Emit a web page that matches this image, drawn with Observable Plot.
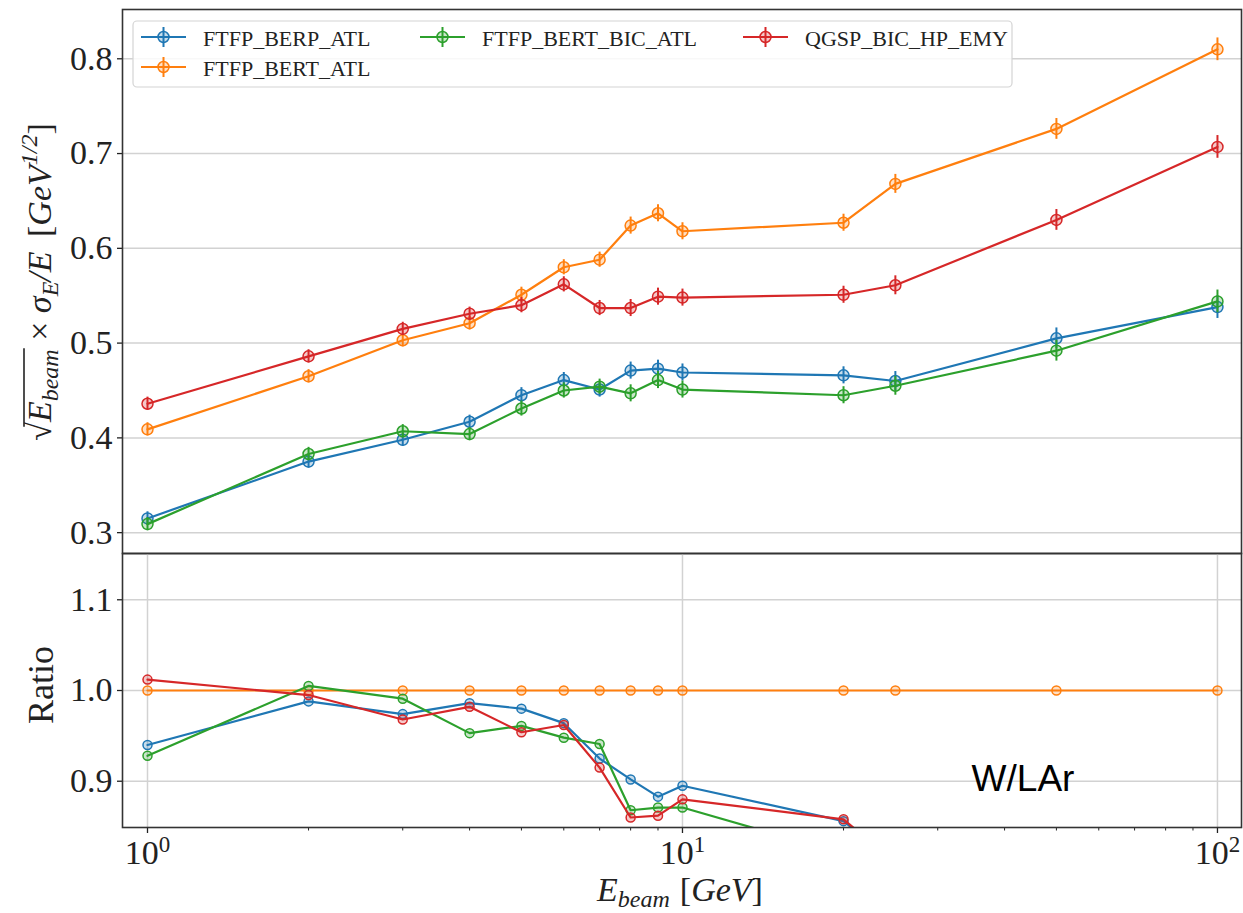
<!DOCTYPE html>
<html><head><meta charset="utf-8">
<script src="https://cdn.jsdelivr.net/npm/d3@7"></script>
<script src="https://cdn.jsdelivr.net/npm/@observablehq/plot@0.6"></script>
<style>
body{margin:0;background:#fff;}
#chart{position:relative;width:1243px;height:913px;overflow:hidden;}
#chart svg{display:block;overflow:visible;}
</style></head><body><div id="chart"></div>
<script>
// ---------- data ----------
const energies = [1, 2, 3, 4, 5, 6, 7, 8, 9, 10, 20, 25, 50, 100];
const seriesNames = ["FTFP_BERP_ATL", "FTFP_BERT_ATL", "FTFP_BERT_BIC_ATL", "QGSP_BIC_HP_EMY"];
const colors = ["#1f77b4", "#ff7f0e", "#2ca02c", "#d62728"];

// sqrt(E_beam) x sigma_E/E  [GeV^1/2]
const resBerpAtl    = [0.315, 0.375, 0.398, 0.417, 0.445, 0.461, 0.451, 0.471, 0.473, 0.469, 0.466, 0.460, 0.505, 0.538];
const resBertAtl    = [0.409, 0.465, 0.503, 0.521, 0.551, 0.580, 0.588, 0.624, 0.637, 0.618, 0.627, 0.668, 0.726, 0.810];
const resBertBicAtl = [0.309, 0.383, 0.407, 0.404, 0.431, 0.450, 0.454, 0.447, 0.461, 0.451, 0.445, 0.455, 0.492, 0.544];
const resQgspBicHp  = [0.436, 0.486, 0.515, 0.531, 0.540, 0.562, 0.537, 0.537, 0.549, 0.548, 0.551, 0.561, 0.630, 0.707];
const resErrors     = [0.007, 0.007, 0.007, 0.007, 0.008, 0.008, 0.008, 0.009, 0.009, 0.009, 0.009, 0.010, 0.011, 0.012];

// ratio panel (points below 0.85 fall outside the frame)
const ratioBerpAtl    = [0.940, 0.988, 0.974, 0.986, 0.980, 0.964, 0.925, 0.902, 0.883, 0.895, 0.856, 0.810];
const ratioBertAtl    = [1.000, 1.000, 1.000, 1.000, 1.000, 1.000, 1.000, 1.000, 1.000, 1.000, 1.000, 1.000, 1.000, 1.000];
const ratioBertBicAtl = [0.928, 1.005, 0.991, 0.953, 0.961, 0.948, 0.941, 0.868, 0.871, 0.871, 0.820];
const ratioQgspBicHp  = [1.012, 0.995, 0.968, 0.982, 0.954, 0.962, 0.915, 0.860, 0.862, 0.880, 0.858, 0.810];

const yTicksTop = [0.3, 0.4, 0.5, 0.6, 0.7, 0.8];
const yTicksRatio = [0.9, 1.0, 1.1];
const xTicksMajor = [1, 10, 100];
const xTicksMinor = [2, 3, 4, 5, 6, 7, 8, 9, 20, 30, 40, 50, 60, 70, 80, 90];
const annotation = [{text: "W/LAr", E: 43.3, ratio: 0.902}];

// ---------- tables ----------
const resSeries = [resBerpAtl, resBertAtl, resBertBicAtl, resQgspBicHp];
const ratioSeries = [ratioBerpAtl, ratioBertAtl, ratioBertBicAtl, ratioQgspBicHp];
const topData = [], ratioData = [];
seriesNames.forEach((name, i) => {
  resSeries[i].forEach((v, j) => topData.push({series: name, idx: i, E: energies[j], v, err: resErrors[j]}));
  ratioSeries[i].forEach((v, j) => ratioData.push({series: name, idx: i, E: energies[j], v}));
});

const xDomain = [0.898, 110.9];
const SERIF = "'Liberation Serif', 'DejaVu Serif', serif";
const gridStyle = {stroke: "#d2d2d2", strokeOpacity: 1, strokeWidth: 1.5};

function seriesMarks(data, withErr, r) {
  return seriesNames.flatMap((name, i) => {
    const d = data.filter(p => p.idx === i);
    const m = [Plot.line(d, {x: "E", y: "v", stroke: colors[i], strokeWidth: 2.2, clip: true})];
    if (withErr) m.push(Plot.ruleX(d, {x: "E", y1: p => p.v - p.err, y2: p => p.v + p.err, stroke: colors[i], strokeWidth: 2}));
    m.push(Plot.dot(d, {x: "E", y: "v", r, stroke: colors[i], fill: colors[i], fillOpacity: 0.25, strokeWidth: 1.5, clip: true}));
    return m;
  });
}

// ---------- top panel ----------
const topPlot = Plot.plot({
  width: 1243, height: 553,
  marginLeft: 122, marginRight: 2, marginTop: 9, marginBottom: 0,
  style: {fontFamily: SERIF, background: "transparent", overflow: "visible", color: "#222"},
  x: {type: "log", domain: xDomain, axis: null},
  y: {domain: [0.278, 0.852]},
  marks: [
    Plot.gridY(yTicksTop, gridStyle),
    Plot.axisY(yTicksTop, {tickSize: 5, tickPadding: 5, fontSize: 34, strokeWidth: 1.3, tickFormat: d => d.toFixed(1), label: null}),
    ...seriesMarks(topData, true, 5.5),
    Plot.frame({stroke: "#333", strokeWidth: 1.6})
  ]
});

// ---------- ratio panel ----------
const botPlot = Plot.plot({
  width: 1243, height: 360,
  marginLeft: 122, marginRight: 2, marginTop: 0, marginBottom: 86,
  style: {fontFamily: SERIF, background: "transparent", overflow: "visible", color: "#222"},
  x: {type: "log", domain: xDomain},
  y: {domain: [0.849, 1.151]},
  marks: [
    Plot.gridY(yTicksRatio, gridStyle),
    Plot.gridX(xTicksMajor, gridStyle),
    Plot.axisY(yTicksRatio, {tickSize: 5, tickPadding: 5, fontSize: 34, strokeWidth: 1.3, tickFormat: d => d.toFixed(1), label: null}),
    Plot.axisX(xTicksMinor, {tickSize: 3.5, strokeWidth: 1, tickFormat: () => "", label: null}),
    Plot.axisX(xTicksMajor, {tickSize: 6, tickPadding: 6, fontSize: 34, strokeWidth: 1.3, tickFormat: d => String(Math.round(Math.log10(d))), label: null}),
    ...seriesMarks(ratioData, false, 4.5),
    Plot.text(annotation, {x: "E", y: "ratio", text: "text", fontSize: 37, fontFamily: "'Liberation Sans', Arial, sans-serif", fill: "#000"}),
    Plot.frame({stroke: "#333", strokeWidth: 1.6})
  ]
});

const chart = document.getElementById("chart");
chart.appendChild(topPlot);
chart.appendChild(botPlot);

// ---------- x tick labels as powers of ten ----------
d3.select(botPlot).selectAll('g[aria-label="x-axis tick label"] text').each(function() {
  const exp = this.textContent.trim();
  if (!exp) return;
  const sel = d3.select(this);
  sel.text("10");
  sel.append("tspan").attr("dy", "-0.5em").attr("font-size", 23).text(exp);
});

// ---------- legend ----------
const svgTop = d3.select(topPlot);
const lg = svgTop.append("g").attr("text-anchor", "start");
lg.append("rect").attr("x", 133).attr("y", 21).attr("width", 879).attr("height", 66).attr("rx", 4)
  .attr("fill", "#fff").attr("fill-opacity", 0.85).attr("stroke", "#d4d4d4").attr("stroke-width", 1.2);
const legendPos = [[141, 37], [141, 67], [420, 37], [743, 37]];
seriesNames.forEach((name, i) => {
  const [x, y] = legendPos[i];
  lg.append("line").attr("x1", x).attr("x2", x + 45).attr("y1", y).attr("y2", y).attr("stroke", colors[i]).attr("stroke-width", 2.2);
  lg.append("line").attr("x1", x + 22.5).attr("x2", x + 22.5).attr("y1", y - 10).attr("y2", y + 10).attr("stroke", colors[i]).attr("stroke-width", 2);
  lg.append("circle").attr("cx", x + 22.5).attr("cy", y).attr("r", 5.5).attr("stroke", colors[i]).attr("stroke-width", 1.5)
    .attr("fill", colors[i]).attr("fill-opacity", 0.25);
  lg.append("text").attr("x", x + 62).attr("y", y + 8.5).attr("text-anchor", "start").attr("font-size", 22)
    .attr("font-family", SERIF).attr("fill", "#222").text(name);
});

// ---------- y label (top) ----------
const gl = svgTop.append("g").attr("transform", "translate(51,282) rotate(-90)");
const t = gl.append("text").attr("text-anchor", "middle").attr("font-size", 34).attr("fill", "#222").attr("font-family", SERIF);
t.append("tspan").text("√");
t.append("tspan").attr("font-style", "italic").text("E");
t.append("tspan").attr("font-style", "italic").attr("font-size", 24).attr("dy", 7).text("beam");
t.append("tspan").attr("dy", -7).text(" × ");
t.append("tspan").attr("font-style", "italic").text("σ");
t.append("tspan").attr("font-style", "italic").attr("font-size", 24).attr("dy", 7).text("E");
t.append("tspan").attr("font-style", "italic").attr("dy", -7).text("/E");
t.append("tspan").attr("dx", 6).text(" [");
t.append("tspan").attr("font-style", "italic").text("GeV");
t.append("tspan").attr("font-style", "italic").attr("font-size", 24).attr("dy", -14).text("1/2");
t.append("tspan").attr("dy", 14).text("]");
try {
  const node = t.node();
  const x1 = node.getStartPositionOfChar(0).x + 14;
  const x2 = node.getEndPositionOfChar(5).x + 1;
  gl.append("line").attr("x1", x1).attr("x2", x2).attr("y1", -27).attr("y2", -27).attr("stroke", "#222").attr("stroke-width", 1.6);
} catch (e) {}

// ---------- y label (ratio) and x label ----------
const svgBot = d3.select(botPlot);
svgBot.append("text").attr("transform", "translate(53,132) rotate(-90)").attr("text-anchor", "middle")
  .attr("font-size", 36).attr("fill", "#222").attr("font-family", SERIF).text("Ratio");
const xl = svgBot.append("text").attr("x", 680).attr("y", 348).attr("text-anchor", "middle")
  .attr("font-size", 34).attr("fill", "#222").attr("font-family", SERIF);
xl.append("tspan").attr("font-style", "italic").text("E");
xl.append("tspan").attr("font-style", "italic").attr("font-size", 24).attr("dy", 6).text("beam");
xl.append("tspan").attr("dy", -6).attr("dx", 10).text("[");
xl.append("tspan").attr("font-style", "italic").text("GeV");
xl.append("tspan").text("]");
</script>
</body></html>
